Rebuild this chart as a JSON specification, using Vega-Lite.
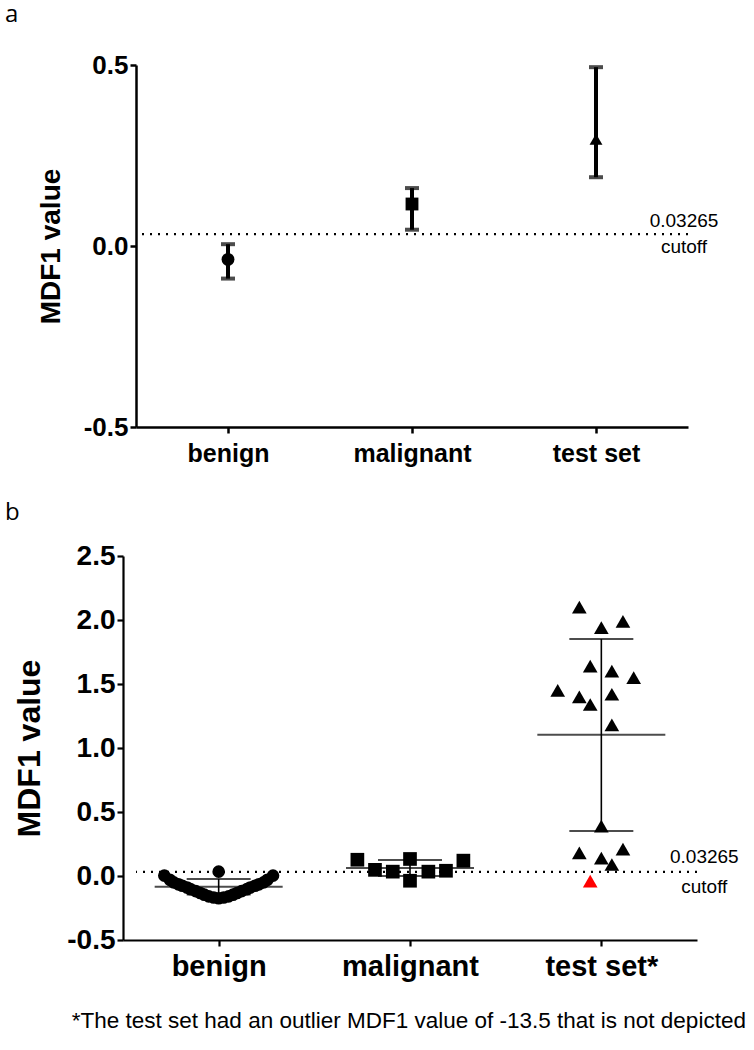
{
  "$schema": "https://vega.github.io/schema/vega-lite/v6.json",
  "background": "white",
  "padding": {"left": 5, "top": 3, "right": 0, "bottom": 0},
  "config": {
    "font": "Liberation Sans",
    "view": {"stroke": null},
    "axis": {"grid": false, "domainColor": "black", "tickColor": "black", "labelColor": "black", "titleColor": "black", "labelFont": "Liberation Sans", "titleFont": "Liberation Sans", "labelFontWeight": "bold", "titleFontWeight": "bold"}
  },
  "title": {"text": "*The test set had an outlier MDF1 value of -13.5 that is not depicted", "orient": "bottom", "anchor": "middle", "dx": 37, "font": "Liberation Sans", "fontSize": 22.5, "fontWeight": "normal", "color": "black", "offset": 29},
  "resolve": {"scale": {"shape": "independent", "size": "independent"}},
  "datasets": {
    "cutoff": [{"cutoff": 0.03265, "label": "0.03265\ncutoff"}],
    "summaryA": [
      {"group": "benign", "mean": -0.037, "lo": -0.09, "hi": 0.005},
      {"group": "malignant", "mean": 0.116, "lo": 0.045, "hi": 0.16},
      {"group": "test set", "mean": 0.295, "lo": 0.19, "hi": 0.494}
    ],
    "summaryB": [
      {"group": "benign", "mean": -0.084, "lo": -0.145, "hi": -0.023},
      {"group": "malignant", "mean": 0.0625, "lo": 0.0, "hi": 0.125},
      {"group": "test set*", "mean": 1.104, "lo": 0.352, "hi": 1.852}
    ],
    "pointsB": [
      {"group": "benign", "jitter": -0.284, "value": 0.003},
      {"group": "benign", "jitter": -0.255, "value": -0.03},
      {"group": "benign", "jitter": -0.235, "value": -0.05},
      {"group": "benign", "jitter": -0.21, "value": -0.065},
      {"group": "benign", "jitter": -0.19, "value": -0.076},
      {"group": "benign", "jitter": -0.165, "value": -0.09},
      {"group": "benign", "jitter": -0.148, "value": -0.102},
      {"group": "benign", "jitter": -0.12, "value": -0.118},
      {"group": "benign", "jitter": -0.096, "value": -0.133},
      {"group": "benign", "jitter": -0.075, "value": -0.146},
      {"group": "benign", "jitter": -0.052, "value": -0.159},
      {"group": "benign", "jitter": -0.026, "value": -0.168},
      {"group": "benign", "jitter": 0.0, "value": -0.174},
      {"group": "benign", "jitter": 0.026, "value": -0.168},
      {"group": "benign", "jitter": 0.052, "value": -0.159},
      {"group": "benign", "jitter": 0.075, "value": -0.146},
      {"group": "benign", "jitter": 0.096, "value": -0.133},
      {"group": "benign", "jitter": 0.12, "value": -0.118},
      {"group": "benign", "jitter": 0.148, "value": -0.102},
      {"group": "benign", "jitter": 0.165, "value": -0.09},
      {"group": "benign", "jitter": 0.19, "value": -0.076},
      {"group": "benign", "jitter": 0.21, "value": -0.065},
      {"group": "benign", "jitter": 0.235, "value": -0.05},
      {"group": "benign", "jitter": 0.255, "value": -0.03},
      {"group": "benign", "jitter": 0.284, "value": 0.003},
      {"group": "benign", "jitter": 0.0, "value": 0.034},
      {"group": "malignant", "jitter": -0.275, "value": 0.127},
      {"group": "malignant", "jitter": -0.183, "value": 0.048},
      {"group": "malignant", "jitter": -0.09, "value": 0.034},
      {"group": "malignant", "jitter": 0.0, "value": 0.133},
      {"group": "malignant", "jitter": 0.0, "value": -0.037},
      {"group": "malignant", "jitter": 0.096, "value": 0.034},
      {"group": "malignant", "jitter": 0.188, "value": 0.041},
      {"group": "malignant", "jitter": 0.279, "value": 0.12},
      {"group": "test set*", "jitter": -0.115, "value": 2.1},
      {"group": "test set*", "jitter": 0.113, "value": 1.99},
      {"group": "test set*", "jitter": 0.0, "value": 1.94},
      {"group": "test set*", "jitter": -0.058, "value": 1.64},
      {"group": "test set*", "jitter": 0.055, "value": 1.6},
      {"group": "test set*", "jitter": 0.169, "value": 1.55},
      {"group": "test set*", "jitter": -0.228, "value": 1.45},
      {"group": "test set*", "jitter": -0.115, "value": 1.4},
      {"group": "test set*", "jitter": 0.055, "value": 1.42},
      {"group": "test set*", "jitter": -0.058, "value": 1.34},
      {"group": "test set*", "jitter": 0.055, "value": 1.18},
      {"group": "test set*", "jitter": 0.0, "value": 0.39},
      {"group": "test set*", "jitter": -0.115, "value": 0.18},
      {"group": "test set*", "jitter": 0.113, "value": 0.21},
      {"group": "test set*", "jitter": 0.0, "value": 0.14},
      {"group": "test set*", "jitter": 0.055, "value": 0.09},
      {"group": "test set*", "jitter": -0.058, "value": -0.04}
    ]
  },
  "concat": [
    {
      "width": 552,
      "height": 362,
      "title": {"text": "a", "anchor": "start", "frame": "group", "dx": -131, "font": "Open Sans", "fontSize": 24, "fontWeight": "normal", "color": "black", "baseline": "top", "offset": 25},
      "layer": [
        {
          "data": {"name": "cutoff"},
          "mark": {"type": "rule", "strokeDash": [2, 6], "strokeWidth": 2.2, "color": "black"},
          "encoding": {
            "y": {"field": "cutoff", "type": "quantitative", "title": "MDF1 value",
              "scale": {"domain": [-0.5, 0.5], "nice": false, "zero": false},
              "axis": {"values": [-0.5, 0, 0.5], "format": ".1f", "labelExpr": "replace(datum.label, '\u2212', '-')", "labelFontSize": 26, "titleFontSize": 28, "domainWidth": 2.5, "tickWidth": 2.5, "tickSize": 6, "labelPadding": 2, "titlePadding": 18}}
          }
        },
        {
          "data": {"name": "summaryA"},
          "mark": {"type": "rule", "strokeWidth": 4, "color": "black"},
          "encoding": {
            "x": {"field": "group", "type": "nominal", "title": null,
              "scale": {"type": "point", "domain": ["benign", "malignant", "test set"], "padding": 0.5},
              "axis": {"labelAngle": 0, "labelFontSize": 25, "domainWidth": 2.5, "tickWidth": 2.5, "tickSize": 6, "labelPadding": 8}},
            "y": {"field": "lo", "type": "quantitative", "title": "MDF1 value"},
            "y2": {"field": "hi"}
          }
        },
        {
          "data": {"name": "summaryA"},
          "transform": [{"fold": ["lo", "hi"], "as": ["bound", "v"]}],
          "mark": {"type": "tick", "orient": "horizontal", "size": 14, "thickness": 4, "color": "black"},
          "encoding": {
            "x": {"field": "group", "type": "nominal", "title": null},
            "y": {"field": "v", "type": "quantitative", "title": "MDF1 value"}
          }
        },
        {
          "data": {"name": "summaryA"},
          "mark": {"type": "point", "filled": true, "opacity": 1, "color": "black"},
          "encoding": {
            "x": {"field": "group", "type": "nominal", "title": null},
            "y": {"field": "mean", "type": "quantitative", "title": "MDF1 value"},
            "shape": {"field": "group", "type": "nominal", "scale": {"domain": ["benign", "malignant", "test set"], "range": ["circle", "square", "triangle-up"]}, "legend": null},
            "size": {"field": "group", "type": "nominal", "scale": {"domain": ["benign", "malignant", "test set"], "range": [165, 165, 240]}, "legend": null}
          }
        },
        {
          "data": {"name": "cutoff"},
          "mark": {"type": "text", "lineBreak": "\n", "dx": 88, "dy": -13, "font": "Liberation Sans", "fontSize": 19, "align": "center", "baseline": "middle", "lineHeight": 26, "color": "black"},
          "encoding": {
            "x": {"datum": "test set"},
            "y": {"field": "cutoff", "type": "quantitative", "title": "MDF1 value"},
            "text": {"field": "label"}
          }
        }
      ]
    },
    {
      "width": 561,
      "height": 384,
      "title": {"text": "b", "anchor": "start", "frame": "group", "dx": -131, "font": "Open Sans", "fontSize": 24, "fontWeight": "normal", "color": "black", "baseline": "top", "offset": 17},
      "layer": [
        {
          "data": {"name": "cutoff"},
          "mark": {"type": "rule", "strokeDash": [2, 6], "strokeWidth": 2.2, "color": "black"},
          "encoding": {
            "y": {"field": "cutoff", "type": "quantitative", "title": "MDF1 value",
              "scale": {"domain": [-0.5, 2.5], "nice": false, "zero": false},
              "axis": {"values": [-0.5, 0, 0.5, 1, 1.5, 2, 2.5], "format": ".1f", "labelExpr": "replace(datum.label, '\u2212', '-')", "offset": 13, "labelFontSize": 28, "titleFontSize": 32, "domainWidth": 2.2, "tickWidth": 2.2, "tickSize": 6, "labelPadding": 2, "titlePadding": 20}}
          }
        },
        {
          "data": {"name": "summaryB"},
          "mark": {"type": "rule", "strokeWidth": 1.6, "color": "black"},
          "encoding": {
            "x": {"field": "group", "type": "nominal", "title": null,
              "scale": {"type": "point", "domain": ["benign", "malignant", "test set*"], "padding": 0.5, "range": [-13, 561]},
              "axis": {"labelAngle": 0, "labelFontSize": 29, "domainWidth": 2.2, "tickWidth": 2.2, "tickSize": 6, "labelPadding": 6}},
            "y": {"field": "lo", "type": "quantitative", "title": "MDF1 value"},
            "y2": {"field": "hi"}
          }
        },
        {
          "data": {"name": "summaryB"},
          "mark": {"type": "tick", "orient": "horizontal", "size": 128, "thickness": 2, "color": "black"},
          "encoding": {
            "x": {"field": "group", "type": "nominal", "title": null},
            "y": {"field": "mean", "type": "quantitative", "title": "MDF1 value"}
          }
        },
        {
          "data": {"name": "summaryB"},
          "transform": [{"fold": ["lo", "hi"], "as": ["bound", "v"]}],
          "mark": {"type": "tick", "orient": "horizontal", "size": 64, "thickness": 2, "color": "black"},
          "encoding": {
            "x": {"field": "group", "type": "nominal", "title": null},
            "y": {"field": "v", "type": "quantitative", "title": "MDF1 value"}
          }
        },
        {
          "data": {"name": "pointsB"},
          "mark": {"type": "point", "filled": true, "opacity": 1},
          "encoding": {
            "x": {"field": "group", "type": "nominal", "title": null},
            "xOffset": {"field": "jitter", "type": "quantitative", "scale": {"domain": [-0.5, 0.5], "range": [-95.67, 95.67]}},
            "y": {"field": "value", "type": "quantitative", "title": "MDF1 value"},
            "shape": {"field": "group", "type": "nominal", "scale": {"domain": ["benign", "malignant", "test set*"], "range": ["circle", "square", "triangle-up"]}, "legend": null},
            "size": {"field": "group", "type": "nominal", "scale": {"domain": ["benign", "malignant", "test set*"], "range": [160, 215, 225]}, "legend": null},
            "color": {"condition": {"test": "datum.group === 'test set*' && datum.value < 0.03265", "value": "#ff0000"}, "value": "black"}
          }
        },
        {
          "data": {"name": "cutoff"},
          "mark": {"type": "text", "lineBreak": "\n", "dx": 103, "dy": -15, "font": "Liberation Sans", "fontSize": 19, "align": "center", "baseline": "middle", "lineHeight": 30, "color": "black"},
          "encoding": {
            "x": {"datum": "test set*"},
            "y": {"field": "cutoff", "type": "quantitative", "title": "MDF1 value"},
            "text": {"field": "label"}
          }
        }
      ]
    }
  ],
  "columns": 1,
  "spacing": 35
}
